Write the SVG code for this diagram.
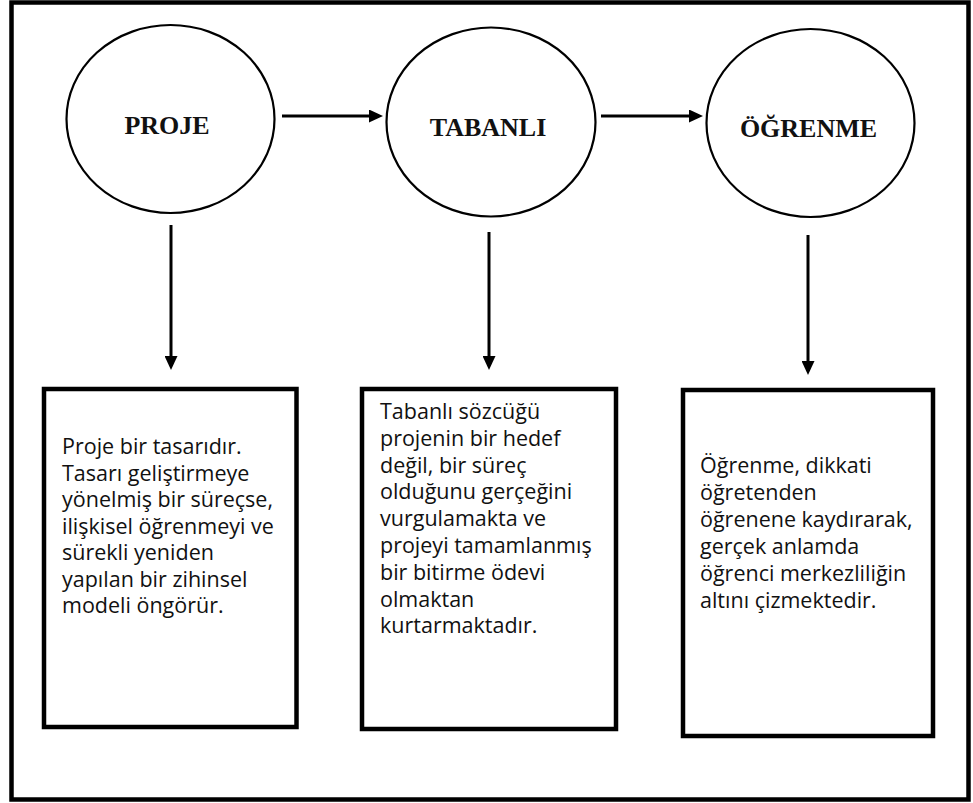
<svg xmlns="http://www.w3.org/2000/svg" width="973" height="803" viewBox="0 0 973 803">
<defs>
<marker id="ah" markerUnits="userSpaceOnUse" markerWidth="14" markerHeight="13" refX="10" refY="6.5" orient="auto">
<path d="M0,0 L14,6.5 L0,13 z" fill="#000"/>
</marker>
<style>
.frame{fill:#fff;stroke:#000;stroke-width:4.5}
.node{fill:#fff;stroke:#000;stroke-width:2.2}
.box{fill:#fff;stroke:#000;stroke-width:4.5}
.title{font-family:"Liberation Serif","Times New Roman",serif;font-weight:bold;font-size:26px;fill:#111;text-anchor:middle}
.body{font-family:"Open Sans","Noto Sans",sans-serif;font-size:21.5px;fill:#111}
.conn{stroke:#000;stroke-width:3;fill:none;marker-end:url(#ah)}
</style>
</defs>
<rect class="frame" x="11.5" y="2.5" width="957" height="797"/>
<g id="node-proje">
<ellipse class="node" cx="170.5" cy="119" rx="104" ry="94"/>
<text class="title" x="167" y="134">PROJE</text>
</g>
<g id="node-tabanli">
<ellipse class="node" cx="491" cy="122" rx="104.5" ry="94.5"/>
<text class="title" x="488" y="136">TABANLI</text>
</g>
<g id="node-ogrenme">
<ellipse class="node" cx="810.5" cy="123" rx="104" ry="94"/>
<text class="title" x="808.5" y="137">ÖĞRENME</text>
</g>
<g id="box-proje">
<rect class="box" x="44" y="389" width="252.5" height="338"/>
<text class="body"><tspan x="62" y="454">Proje bir tasarıdır.</tspan><tspan x="62" y="480.5">Tasarı geliştirmeye</tspan><tspan x="62" y="507">yönelmiş bir süreçse,</tspan><tspan x="62" y="533.5">ilişkisel öğrenmeyi ve</tspan><tspan x="62" y="560">sürekli yeniden</tspan><tspan x="62" y="586.5">yapılan bir zihinsel</tspan><tspan x="62" y="613">modeli öngörür.</tspan></text>
</g>
<g id="box-tabanli">
<rect class="box" x="362" y="389" width="254" height="340"/>
<text class="body"><tspan x="380" y="419">Tabanlı sözcüğü</tspan><tspan x="380" y="445.8">projenin bir hedef</tspan><tspan x="380" y="472.6">değil, bir süreç</tspan><tspan x="380" y="499.4">olduğunu gerçeğini</tspan><tspan x="380" y="526.2">vurgulamakta ve</tspan><tspan x="380" y="553">projeyi tamamlanmış</tspan><tspan x="380" y="579.8">bir bitirme ödevi</tspan><tspan x="380" y="606.6">olmaktan</tspan><tspan x="380" y="633.4">kurtarmaktadır.</tspan></text>
</g>
<g id="box-ogrenme">
<rect class="box" x="683" y="390" width="250" height="346"/>
<text class="body"><tspan x="700" y="473">Öğrenme, dikkati</tspan><tspan x="700" y="500">öğretenden</tspan><tspan x="700" y="527">öğrenene kaydırarak,</tspan><tspan x="700" y="554">gerçek anlamda</tspan><tspan x="700" y="581">öğrenci merkezliliğin</tspan><tspan x="700" y="608">altını çizmektedir.</tspan></text>
</g>
<g id="connectors">
<line class="conn" x1="282" y1="116" x2="379" y2="116"/>
<line class="conn" x1="601" y1="116" x2="699" y2="116"/>
<line class="conn" x1="171" y1="225" x2="171" y2="366"/>
<line class="conn" x1="489" y1="232" x2="489" y2="366"/>
<line class="conn" x1="808" y1="235" x2="808" y2="371"/>
</g>
</svg>
